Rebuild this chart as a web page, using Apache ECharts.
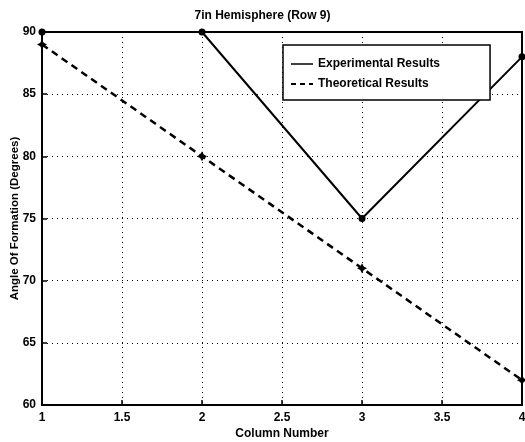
<!DOCTYPE html>
<html><head><meta charset="utf-8">
<script src="https://cdn.jsdelivr.net/npm/echarts@6/dist/echarts.min.js"></script>
<style>html,body{margin:0;padding:0;background:#fff}#c{width:525px;height:442px}</style>
</head><body><div id="c"></div>
<script>
var columns = [1, 2, 3, 4];
var experimental = [90, 90, 75, 88];
var theoretical = [89, 80, 71, 62];
var xTicks = [1, 1.5, 2, 2.5, 3, 3.5, 4];
var yTicks = [60, 65, 70, 75, 80, 85, 90];

var F = '"Liberation Sans", Arial, sans-serif';
var chart = echarts.init(document.getElementById('c'));
function pairs(ys){ return columns.map(function(x,i){ return [x, ys[i]]; }); }
var axCommon = {
  axisLine:{show:true, lineStyle:{color:'#000', width:2}},
  axisTick:{show:true, inside:true, length:5, lineStyle:{color:'#000', width:1.5}},
  splitLine:{show:true, lineStyle:{color:'#000', type:[1,4], width:1}},
  axisLabel:{color:'#000', fontFamily:F, fontWeight:'bold', fontSize:11}
};
chart.setOption({
  animation:false,
  backgroundColor:'#fff',
  title:{text:'7in Hemisphere (Row 9)', left:'center', top:5,
    textStyle:{fontFamily:F, fontWeight:'bold', fontSize:12, color:'#000'}},
  grid:{left:42, right:3, top:32, bottom:37, show:true, borderColor:'#000', borderWidth:2,
    containLabel:false, outerBoundsMode:'none'},
  legend:{
    left:283, top:45, orient:'vertical', itemGap:8, itemWidth:22, itemHeight:12,
    padding:[13,50,10,7],
    borderColor:'#000', borderWidth:1.5, backgroundColor:'#fff',
    textStyle:{fontFamily:F, fontWeight:'bold', fontSize:12, color:'#000'},
    itemStyle:{opacity:0},
    data:[
      {name:'Experimental Results', lineStyle:{type:'solid', width:1.5, color:'#000'}},
      {name:'Theoretical Results', lineStyle:{type:[5,4], width:2, color:'#000'}}
    ]
  },
  xAxis:Object.assign({type:'value', min:1, max:4, interval:0.5,
    name:'Column Number', nameLocation:'middle', nameGap:23, nameMoveOverlap:false,
    nameTextStyle:{fontFamily:F, fontWeight:'bold', fontSize:12, color:'#000'}}, axCommon,
    {axisLabel:Object.assign({}, axCommon.axisLabel, {margin:7, fontSize:12})}),
  yAxis:Object.assign({type:'value', min:60, max:90, interval:5,
    name:'Angle Of Formation (Degrees)', nameLocation:'middle', nameGap:21, nameMoveOverlap:false,
    nameTextStyle:{fontFamily:F, fontWeight:'bold', fontSize:11.5, color:'#000'}}, axCommon,
    {axisLabel:Object.assign({}, axCommon.axisLabel, {margin:6, fontSize:12})}),
  series:[
    {name:'Experimental Results', type:'line', data:pairs(experimental),
      symbol:'circle', symbolSize:7, itemStyle:{color:'#000'},
      lineStyle:{color:'#000', width:2, type:'solid'}, z:3},
    {name:'Theoretical Results', type:'line', data:pairs(theoretical),
      symbol:'path://M0,-5L1.8,-1.8L5,0L1.8,1.8L0,5L-1.8,1.8L-5,0L-1.8,-1.8Z', symbolSize:10,
      itemStyle:{color:'#000'},
      lineStyle:{color:'#000', width:2.5, type:[7,5]}, z:3}
  ]
});
</script></body></html>
